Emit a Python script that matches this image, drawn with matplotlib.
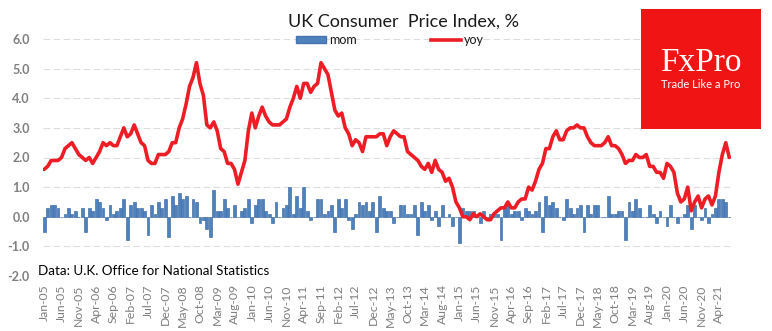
import matplotlib.pyplot as plt
import matplotlib.patches as mpatches
import matplotlib.lines as mlines
import pandas as pd
import numpy as np

# UK CPI, Jan-05 .. Jul-21 (monthly)
months = pd.date_range("2005-01-01", periods=199, freq="MS")
month_labels = [d.strftime("%b-%y") for d in months]

yoy = [
    1.6, 1.7, 1.9, 1.9, 1.9, 2.0, 2.3, 2.4, 2.5, 2.3, 2.1, 2.0,   # 2005
    1.9, 2.0, 1.8, 2.0, 2.2, 2.5, 2.4, 2.5, 2.4, 2.4, 2.7, 3.0,   # 2006
    2.7, 2.8, 3.1, 2.8, 2.5, 2.4, 1.9, 1.8, 1.8, 2.1, 2.1, 2.1,   # 2007
    2.2, 2.5, 2.5, 3.0, 3.3, 3.8, 4.4, 4.7, 5.2, 4.5, 4.1, 3.1,   # 2008
    3.0, 3.2, 2.9, 2.3, 2.2, 1.8, 1.8, 1.6, 1.1, 1.5, 1.9, 2.9,   # 2009
    3.5, 3.0, 3.4, 3.7, 3.4, 3.2, 3.1, 3.1, 3.1, 3.2, 3.3, 3.7,   # 2010
    4.0, 4.4, 4.0, 4.5, 4.5, 4.2, 4.4, 4.5, 5.2, 5.0, 4.8, 4.2,   # 2011
    3.6, 3.4, 3.5, 3.0, 2.8, 2.4, 2.6, 2.5, 2.2, 2.7, 2.7, 2.7,   # 2012
    2.7, 2.8, 2.8, 2.4, 2.7, 2.9, 2.8, 2.7, 2.7, 2.2, 2.1, 2.0,   # 2013
    1.9, 1.7, 1.6, 1.8, 1.5, 1.9, 1.6, 1.5, 1.2, 1.3, 1.0, 0.5,   # 2014
    0.3, 0.0, 0.0, -0.1, 0.1, 0.0, 0.1, 0.0, -0.1, -0.1, 0.1, 0.2,  # 2015
    0.3, 0.3, 0.5, 0.3, 0.3, 0.5, 0.6, 0.6, 1.0, 0.9, 1.2, 1.6,   # 2016
    1.8, 2.3, 2.3, 2.7, 2.9, 2.6, 2.6, 2.9, 3.0, 3.0, 3.1, 3.0,   # 2017
    3.0, 2.7, 2.5, 2.4, 2.4, 2.4, 2.5, 2.7, 2.4, 2.4, 2.3, 2.1,   # 2018
    1.8, 1.9, 1.9, 2.1, 2.0, 2.0, 2.1, 1.7, 1.7, 1.5, 1.5, 1.3,   # 2019
    1.8, 1.7, 1.5, 0.8, 0.5, 0.6, 1.0, 0.2, 0.5, 0.7, 0.3, 0.6,   # 2020
    0.7, 0.4, 0.7, 1.5, 2.1, 2.5, 2.0,                            # 2021
]

mom = [
    -0.5, 0.3, 0.4, 0.4, 0.3, 0.0, 0.1, 0.3, 0.1, 0.2, 0.0, 0.3,
    -0.5, 0.3, 0.2, 0.6, 0.5, 0.3, -0.1, 0.4, 0.1, 0.2, 0.3, 0.6,
    -0.8, 0.4, 0.5, 0.3, 0.3, 0.2, -0.6, 0.4, 0.1, 0.5, 0.3, 0.6,
    -0.7, 0.7, 0.4, 0.8, 0.6, 0.7, 0.0, 0.6, 0.5, -0.2, -0.1, -0.4,
    -0.7, 0.9, 0.2, 0.2, 0.6, 0.3, 0.0, 0.4, 0.0, 0.2, 0.3, 0.6,
    -0.2, 0.4, 0.6, 0.6, 0.2, 0.1, -0.2, 0.5, 0.0, 0.3, 0.4, 1.0,
    0.1, 0.7, 0.3, 1.0, 0.2, -0.1, 0.0, 0.6, 0.6, 0.1, 0.2, 0.4,
    -0.5, 0.6, 0.3, 0.6, -0.1, -0.4, 0.1, 0.5, 0.4, 0.5, 0.2, 0.5,
    -0.5, 0.7, 0.3, 0.2, 0.2, -0.2, 0.0, 0.4, 0.4, 0.1, 0.1, 0.4,
    -0.6, 0.5, 0.2, 0.4, -0.1, 0.2, -0.3, 0.4, 0.0, 0.1, -0.3, 0.0,
    -0.9, 0.3, 0.2, 0.2, 0.2, 0.0, -0.2, 0.2, -0.1, 0.1, 0.1, 0.1,
    -0.8, 0.3, 0.4, 0.1, 0.2, 0.2, -0.1, 0.3, 0.2, 0.1, 0.2, 0.5,
    -0.5, 0.7, 0.4, 0.5, 0.3, 0.0, -0.1, 0.6, 0.3, 0.1, 0.3, 0.4,
    -0.5, 0.4, 0.1, 0.4, 0.4, 0.0, 0.0, 0.7, 0.1, 0.1, 0.2, 0.2,
    -0.8, 0.5, 0.2, 0.6, 0.3, 0.0, 0.0, 0.4, 0.1, -0.2, 0.2, 0.0,
    -0.3, 0.4, 0.0, -0.2, 0.0, 0.1, 0.4, -0.4, 0.4, 0.0, -0.1, 0.3,
    -0.2, 0.1, 0.3, 0.6, 0.6, 0.5, 0.0,
]

y_ticks = [-2.0, -1.0, 0.0, 1.0, 2.0, 3.0, 4.0, 5.0, 6.0]

plt.rcParams['font.family'] = ['Lato', 'DejaVu Sans']

fig = plt.figure(figsize=(7.72, 3.31), dpi=100)
ax = fig.add_axes([42.5 / 772, 1 - 276 / 331, (731 - 42.5) / 772, (276 - 39) / 331])

x = np.arange(len(months))
ax.bar(x, mom, width=0.82, color="#4f81bd", edgecolor="#4473ad", linewidth=0.5, zorder=2)
ax.plot(x, yoy, color="#ee1c25", linewidth=2.6, solid_joinstyle="round",
        solid_capstyle="round", zorder=3)

ax.set_xlim(-0.5, len(months) - 0.5)
ax.set_ylim(-2, 6)
ax.set_yticks(y_ticks)
ax.set_yticklabels([f"{v:.1f}" for v in y_ticks], color="#7f7f7f", fontweight="bold", fontsize=9)
ax.set_xticks(x[::5])
ax.set_xticklabels(month_labels[::5], rotation=90, color="#7f7f7f", fontsize=8.8)
ax.tick_params(length=0, axis="y", pad=9)
ax.tick_params(length=0, axis="x", pad=6)
for s in ax.spines.values():
    s.set_visible(False)
ax.grid(axis="y", color="#dcdcdc", linestyle=(0, (6, 3)), linewidth=0.8, zorder=0)
ax.set_axisbelow(True)

fig.text(404 / 772, 1 - 27 / 331, "UK Consumer  Price Index, %", ha="center", va="baseline",
         fontsize=13, color="#1a1a1a")
fig.text(38 / 772, 1 - 275 / 331, "Data: U.K. Office for National Statistics", ha="left",
         va="baseline", fontsize=9.6, color="black")

handles = [mpatches.Patch(facecolor="#4f81bd", edgecolor="#4473ad", label="mom"),
           mlines.Line2D([], [], color="#ee1c25", linewidth=2.6, label="yoy")]
fig.legend(handles=handles, loc="center", bbox_to_anchor=(390 / 772, 1 - 40 / 331), ncol=2,
           frameon=False, fontsize=9, handlelength=2.4, handleheight=0.5, handletextpad=0.2,
           columnspacing=6.0, labelcolor="#1a1a1a")

# logo box
logo = fig.add_axes([641 / 772, 1 - 129 / 331, 120 / 772, 120 / 331])
logo.set_facecolor("#f01414")
logo.set_xticks([])
logo.set_yticks([])
for s in logo.spines.values():
    s.set_visible(False)
logo.text(0.5, 0.55, "FxPro", ha="center", va="center", color="white", fontsize=24,
          family="Liberation Serif", transform=logo.transAxes)
logo.text(0.5, 0.37, "Trade Like a Pro", ha="center", va="center", color="white", fontsize=8,
          transform=logo.transAxes)

fig.savefig("out.png", dpi=100)
